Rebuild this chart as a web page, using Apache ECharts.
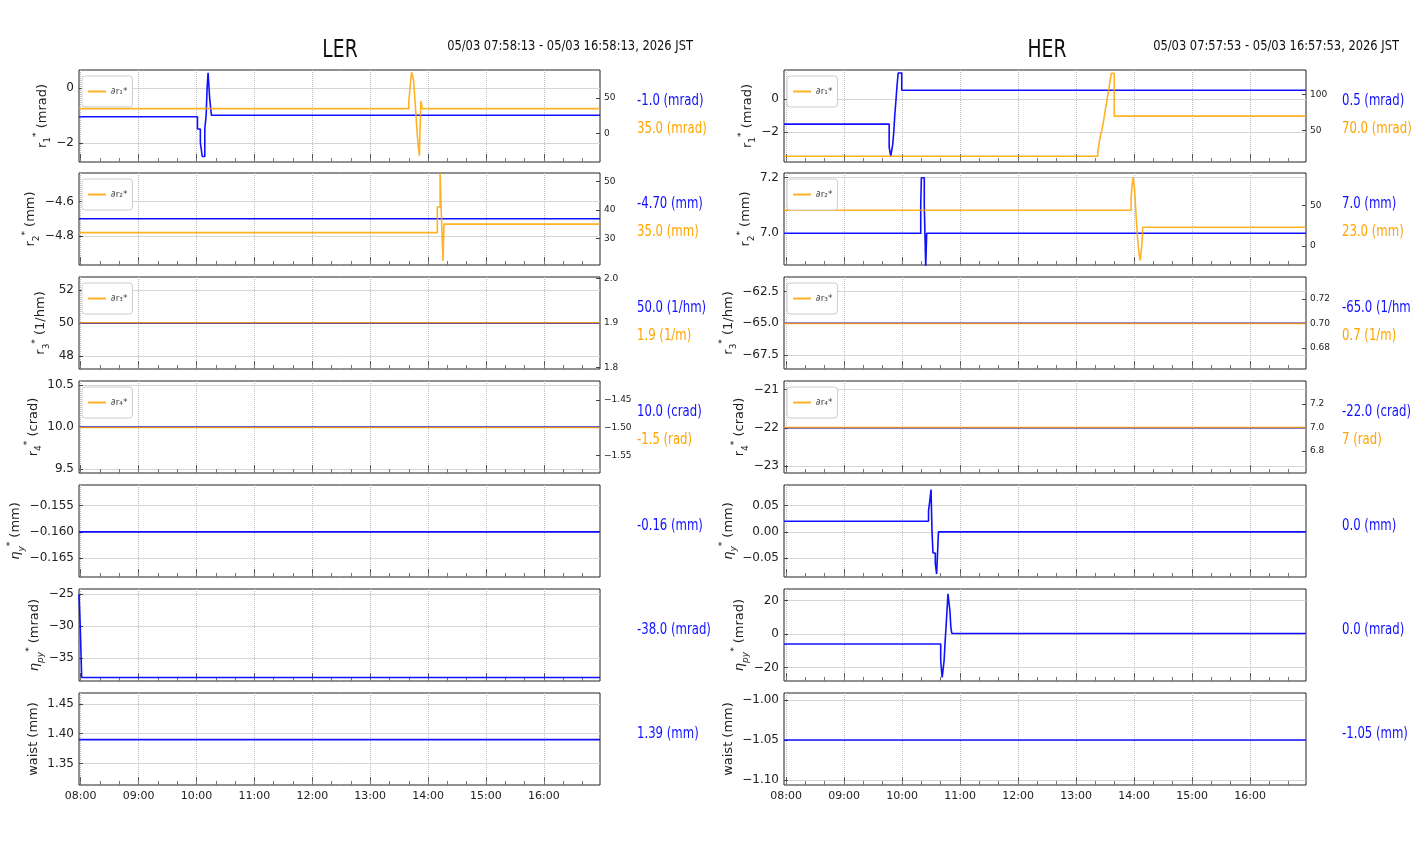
<!DOCTYPE html>
<html>
<head>
<meta charset="utf-8">
<title>LER / HER</title>
<script src="https://cdn.jsdelivr.net/npm/echarts@6/dist/echarts.min.js"></script>
<style>
  html, body { margin: 0; padding: 0; background: #fff; }
  #main { width: 1412px; height: 864px; }
</style>
</head>
<body>
<div id="main"></div>
<script>
// ---------- data (times as HH:MM:SS) ----------
const lerRange = ['07:58:13', '16:58:13'];
const herRange = ['07:57:53', '16:57:53'];
const lerStamp = '05/03 07:58:13 - 05/03 16:58:13, 2026 JST';
const herStamp = '05/03 07:57:53 - 05/03 16:57:53, 2026 JST';
const hourTicks = ['08:00', '09:00', '10:00', '11:00', '12:00', '13:00', '14:00', '15:00', '16:00'];
const minorTicks = ['08:00', '08:20', '08:40', '09:00', '09:20', '09:40', '10:00', '10:20', '10:40',
  '11:00', '11:20', '11:40', '12:00', '12:20', '12:40', '13:00', '13:20', '13:40', '14:00', '14:20',
  '14:40', '15:00', '15:20', '15:40', '16:00', '16:20', '16:40'];

// LER blue (left axis)
const lerR1 = [['07:58:13', -1.05], ['10:01:00', -1.5], ['10:04:00', -2.0], ['10:06:00', -2.5],
  ['10:08:36', -1.5], ['10:10:00', -1.0], ['10:11:00', 0.0], ['10:12:00', 0.55], ['10:13:48', -0.45],
  ['10:15:30', -1.0], ['16:58:13', -1.0]];
const lerR2 = [['07:58:13', -4.70], ['16:58:13', -4.70]];
const lerR3 = [['07:58:13', 50.0], ['16:58:13', 50.0]];
const lerR4 = [['07:58:13', 10.0], ['16:58:13', 10.0]];
const lerEy = [['07:58:13', -0.160], ['16:58:13', -0.160]];
const lerEpy = [['07:58:13', -25], ['07:59:30', -30], ['08:01:00', -38], ['16:58:13', -38]];
const lerWaist = [['07:58:13', 1.39], ['16:58:13', 1.39]];
// LER orange (right axis)
const lerD1 = [['07:58:13', 35], ['13:40:00', 45], ['13:41:00', 60], ['13:42:00', 75], ['13:43:00', 87],
  ['13:45:00', 75], ['13:46:00', 55], ['13:47:00', 35], ['13:48:00', 15], ['13:49:00', -5],
  ['13:50:00', -20], ['13:51:00', -32], ['13:52:30', 46], ['13:54:00', 35], ['16:58:13', 35]];
const lerD2 = [['07:58:13', 32], ['14:09:36', 41], ['14:12:30', 53], ['14:13:30', 41], ['14:15:30', 22],
  ['14:16:30', 35], ['16:58:13', 35]];
const lerD3 = [['07:58:13', 1.9], ['16:58:13', 1.9]];
const lerD4 = [['07:58:13', -1.5], ['16:58:13', -1.5]];

// HER blue (left axis)
const herR1 = [['07:57:53', -1.5], ['09:46:40', -2.9], ['09:48:20', -3.45], ['09:50:20', -2.75],
  ['09:51:30', -1.95], ['09:52:30', -0.95], ['09:53:50', 0.05], ['09:54:50', 0.85], ['09:56:00', 1.6],
  ['09:59:40', 0.55], ['16:57:53', 0.55]];
const herR2 = [['07:57:53', 7.0], ['10:19:20', 7.1], ['10:20:00', 7.2], ['10:23:00', 7.1],
  ['10:24:30', 6.88], ['10:25:30', 7.0], ['16:57:53', 7.0]];
const herR3 = [['07:57:53', -65.0], ['16:57:53', -65.0]];
const herR4 = [['07:57:53', -22.0], ['16:57:53', -22.0]];
const herEy = [['07:57:53', 0.02], ['10:27:24', 0.04], ['10:28:48', 0.06], ['10:30:00', 0.08],
  ['10:31:00', 0.0], ['10:32:00', -0.04], ['10:34:24', -0.06], ['10:35:48', -0.08], ['10:37:40', 0.0],
  ['16:57:53', 0.0]];
const herEpy = [['07:57:53', -6], ['10:40:00', -16], ['10:41:30', -26], ['10:43:30', -16], ['10:44:30', -5],
  ['10:45:30', 4], ['10:46:30', 14], ['10:47:30', 24], ['10:49:30', 14], ['10:50:30', 4],
  ['10:51:30', 0.3], ['16:57:53', 0.3]];
const herWaist = [['07:57:53', -1.05], ['16:57:53', -1.05]];
// HER orange (right axis)
const herD1 = [['07:57:53', 15], ['13:22:30', 22], ['13:23:30', 30], ['13:24:30', 38], ['13:25:30', 45],
  ['13:26:30', 50], ['13:27:30', 56], ['13:28:30', 64], ['13:29:30', 72], ['13:30:30', 80],
  ['13:31:30', 88], ['13:32:30', 96], ['13:33:30', 104], ['13:34:30', 112], ['13:35:30', 121],
  ['13:36:30', 129], ['13:39:30', 70], ['16:57:53', 70]];
const herD2 = [['07:57:53', 44], ['13:57:00', 60], ['13:58:00', 75], ['13:59:00', 85], ['14:00:30', 70],
  ['14:01:30', 50], ['14:02:30', 30], ['14:03:30', 12], ['14:04:30', -2], ['14:05:30', -12],
  ['14:06:30', -18], ['14:08:00', 0], ['14:09:00', 23], ['16:57:53', 23]];
const herD3 = [['07:57:53', 0.70], ['16:57:53', 0.70]];
const herD4 = [['07:57:53', 7.0], ['16:57:53', 7.0]];

// axis limits and tick values
const lerLeftLim = [[-2.7, 0.65], [-4.967, -4.436], [47.24, 52.77], [9.453, 10.547], [-0.16856, -0.1511], [-38.55, -24.18], [1.314, 1.468]];
const lerLeftTicks = [[-2, 0], [-4.8, -4.6], [48, 50, 52], [9.5, 10.0, 10.5], [-0.165, -0.160, -0.155], [-35, -30, -25], [1.35, 1.40, 1.45]];
const lerLeftDec = [0, 1, 0, 1, 3, 0, 2];
const lerRightLim = [[-41, 90], [20.6, 53], [1.796, 2.003], [-1.582, -1.416]];
const lerRightTicks = [[0, 50], [30, 40, 50], [1.8, 1.9, 2.0], [-1.55, -1.50, -1.45]];
const lerRightDec = [0, 0, 1, 2];

const herLeftLim = [[-3.8, 1.78], [6.886, 7.217], [-68.59, -61.36], [-23.19, -20.77], [-0.0856, 0.0888], [-28.1, 26.9], [-1.106, -0.9914]];
const herLeftTicks = [[-2, 0], [7.0, 7.2], [-67.5, -65.0, -62.5], [-23, -22, -21], [-0.05, 0.00, 0.05], [-20, 0, 20], [-1.10, -1.05, -1.00]];
const herLeftDec = [0, 1, 1, 0, 2, 0, 2];
const herRightLim = [[7, 133.4], [-23.5, 89.9], [0.6627, 0.738], [6.612, 7.397]];
const herRightTicks = [[50, 100], [0, 50], [0.68, 0.70, 0.72], [6.8, 7.0, 7.2]];
const herRightDec = [0, 0, 2, 1];

// texts
const yNames = ['{v|r}{sub|1}{sup|*} (mrad)', '{v|r}{sub|2}{sup|*} (mm)', '{v|r}{sub|3}{sup|*} (1/hm)',
  '{v|r}{sub|4}{sup|*} (crad)', '{e|η}{esub|y}{sup|*} (mm)', '{e|η}{esub|py}{sup|*} (mrad)', 'waist (mm)'];
const legendNames = ['∂r₁*', '∂r₂*', '∂r₃*', '∂r₄*'];
const lerBlueText = ['-1.0 (mrad)', '-4.70 (mm)', '50.0 (1/hm)', '10.0 (crad)', '-0.16 (mm)', '-38.0 (mrad)', '1.39 (mm)'];
const lerOrangeText = ['35.0 (mrad)', '35.0 (mm)', '1.9 (1/m)', '-1.5 (rad)'];
const herBlueText = ['0.5 (mrad)', '7.0 (mm)', '-65.0 (1/hm)', '-22.0 (crad)', '0.0 (mm)', '0.0 (mrad)', '-1.05 (mm)'];
const herOrangeText = ['70.0 (mrad)', '23.0 (mm)', '0.7 (1/m)', '7 (rad)'];

// ---------- layout ----------
const BLUE = '#1010ff';
const ORANGE = '#ffa500';
const FONT = "'DejaVu Sans', sans-serif";
const rowTops = [70, 173, 277, 381, 485, 589, 693];
const rowH = 92;

function toMin(s) {
  const p = s.split(':').map(Number);
  return p[0] * 60 + p[1] + (p[2] || 0) / 60;
}
function fmt(v, d) {
  return Number(v).toFixed(d).replace('-', '\u2212');
}
function hhmm(v) {
  const t = Math.round(v);
  const h = Math.floor(t / 60), m = t % 60;
  return (h < 10 ? '0' : '') + h + ':' + (m < 10 ? '0' : '') + m;
}
// narrow text via horizontal scaling (no condensed font available)
function narrowText(text, x, y, size, color, align, sx) {
  return {
    type: 'text', x: x, y: y, scaleX: sx, silent: true,
    style: { text: text, fontSize: size, fontFamily: FONT, fill: color, align: align, verticalAlign: 'middle' }
  };
}

const sides = [
  {
    title: 'LER', titleX: 340, stamp: lerStamp, stampX: 693, left: 79, width: 521, textX: 637,
    range: lerRange, blue: [lerR1, lerR2, lerR3, lerR4, lerEy, lerEpy, lerWaist],
    orange: [lerD1, lerD2, lerD3, lerD4],
    leftLim: lerLeftLim, leftTicks: lerLeftTicks, leftDec: lerLeftDec,
    rightLim: lerRightLim, rightTicks: lerRightTicks, rightDec: lerRightDec,
    blueText: lerBlueText, orangeText: lerOrangeText,
    nameGap: [22, 25, 28, 28, 38, 28, 20]
  },
  {
    title: 'HER', titleX: 1047, stamp: herStamp, stampX: 1399, left: 784, width: 522, textX: 1342,
    range: herRange, blue: [herR1, herR2, herR3, herR4, herEy, herEpy, herWaist],
    orange: [herD1, herD2, herD3, herD4],
    leftLim: herLeftLim, leftTicks: herLeftTicks, leftDec: herLeftDec,
    rightLim: herRightLim, rightTicks: herRightTicks, rightDec: herRightDec,
    blueText: herBlueText, orangeText: herOrangeText,
    nameGap: [21, 19, 27, 27, 28, 28, 28]
  }
];

const grid = [], xAxis = [], yAxis = [], series = [], legend = [], graphic = [];
const hourVals = hourTicks.map(toMin);
const minorVals = minorTicks.map(toMin);

sides.forEach(function (s) {
  graphic.push(narrowText(s.title, s.titleX, 51, 24, '#111', 'center', 0.78));
  graphic.push(narrowText(s.stamp, s.stampX, 46, 14, '#111', 'right', 0.82));
  rowTops.forEach(function (top, r) {
    const gi = grid.length;
    grid.push({
      left: s.left, top: top, width: s.width, height: rowH,
      show: true, borderColor: '#222', borderWidth: 1, backgroundColor: 'transparent'
    });
    const last = r === rowTops.length - 1;
    // main time axis (hourly ticks, labels on the bottom row only)
    xAxis.push({
      type: 'value', gridIndex: gi, position: 'bottom', min: toMin(s.range[0]), max: toMin(s.range[1]),
      axisLine: { show: false, onZero: false },
      axisTick: { show: true, inside: true, length: 8, customValues: hourVals, lineStyle: { color: '#555' } },
      axisLabel: {
        show: last, customValues: hourVals, formatter: hhmm, fontSize: 11, fontFamily: FONT,
        color: '#222', margin: 6
      },
      splitLine: { show: true, lineStyle: { color: '#bdbdbd', type: 'dotted' } }
    });
    const xMain = xAxis.length - 1;
    // minor ticks every 20 minutes
    xAxis.push({
      type: 'value', gridIndex: gi, position: 'bottom', min: toMin(s.range[0]), max: toMin(s.range[1]),
      axisLine: { show: false, onZero: false },
      axisTick: { show: true, inside: true, length: 4, customValues: minorVals, lineStyle: { color: '#777' } },
      axisLabel: { show: false },
      splitLine: { show: false }
    });

    yAxis.push({
      type: 'value', gridIndex: gi, position: 'left',
      min: s.leftLim[r][0], max: s.leftLim[r][1],
      name: yNames[r], nameLocation: 'middle', nameRotate: 90, nameGap: s.nameGap[r],
      nameTextStyle: {
        fontSize: 13, fontFamily: FONT, color: '#222', lineHeight: 20,
        rich: {
          v: { fontSize: 13, fontFamily: FONT, lineHeight: 20 },
          e: { fontSize: 13, fontFamily: FONT, fontStyle: 'italic', lineHeight: 20 },
          sub: { fontSize: 9, fontFamily: FONT, verticalAlign: 'bottom', lineHeight: 20 },
          esub: { fontSize: 9, fontFamily: FONT, fontStyle: 'italic', verticalAlign: 'bottom', lineHeight: 20 },
          sup: { fontSize: 9, fontFamily: FONT, verticalAlign: 'top', lineHeight: 20 }
        }
      },
      axisLine: { show: false, onZero: false },
      axisTick: { show: true, inside: true, length: 4, customValues: s.leftTicks[r], lineStyle: { color: '#444' } },
      axisLabel: {
        customValues: s.leftTicks[r], fontSize: 12, fontFamily: FONT, color: '#222', margin: 5,
        formatter: (function (d) { return function (v) { return fmt(v, d); }; })(s.leftDec[r])
      },
      splitLine: { show: true, lineStyle: { color: '#d6d6d6', width: 1 } }
    });
    const yLeft = yAxis.length - 1;
    series.push({
      type: 'line', name: s.title + ' blue ' + r, xAxisIndex: xMain, yAxisIndex: yLeft,
      step: 'end', symbol: 'none', showSymbol: false, silent: true,
      lineStyle: { color: BLUE, width: 1.6 }, itemStyle: { color: BLUE },
      data: s.blue[r].map(function (p) { return [toMin(p[0]), p[1]]; })
    });

    if (r < s.orange.length) {
      yAxis.push({
        type: 'value', gridIndex: gi, position: 'right',
        min: s.rightLim[r][0], max: s.rightLim[r][1],
        axisLine: { show: false, onZero: false },
        axisTick: { show: true, inside: true, length: 4, customValues: s.rightTicks[r], lineStyle: { color: '#444' } },
        axisLabel: {
          customValues: s.rightTicks[r], fontSize: 9, fontFamily: FONT, color: '#222', margin: 4,
          formatter: (function (d) { return function (v) { return fmt(v, d); }; })(s.rightDec[r])
        },
        splitLine: { show: false }
      });
      series.push({
        type: 'line', name: legendNames[r], xAxisIndex: xMain, yAxisIndex: yAxis.length - 1,
        step: 'end', symbol: 'none', showSymbol: false, silent: true,
        lineStyle: { color: ORANGE, width: 1.6, opacity: 0.85 }, itemStyle: { color: ORANGE },
        data: s.orange[r].map(function (p) { return [toMin(p[0]), p[1]]; })
      });
      legend.push({
        data: [legendNames[r]], left: s.left + 3, top: top + 6, orient: 'vertical',
        backgroundColor: '#fff', borderColor: '#ccc', borderWidth: 1, borderRadius: 3,
        padding: [11, 5, 11, 6], itemWidth: 18, itemHeight: 2, itemGap: 4, icon: 'rect',
        selectedMode: false,
        itemStyle: { color: ORANGE, opacity: 0.85 },
        textStyle: { fontSize: 9, fontFamily: FONT, color: '#444' }
      });
      graphic.push(narrowText(s.orangeText[r], s.textX, top + 59, 15, ORANGE, 'left', 0.78));
    }
    graphic.push(narrowText(s.blueText[r], s.textX, top + (r < 4 ? 31 : 41), 15, BLUE, 'left', 0.78));
  });
});

const chart = echarts.init(document.getElementById('main'));
chart.setOption({
  backgroundColor: '#fff',
  animation: false,
  grid: grid,
  xAxis: xAxis,
  yAxis: yAxis,
  legend: legend,
  series: series,
  graphic: graphic
});
window.onresize = function () { chart.resize(); };
</script>
</body>
</html>
